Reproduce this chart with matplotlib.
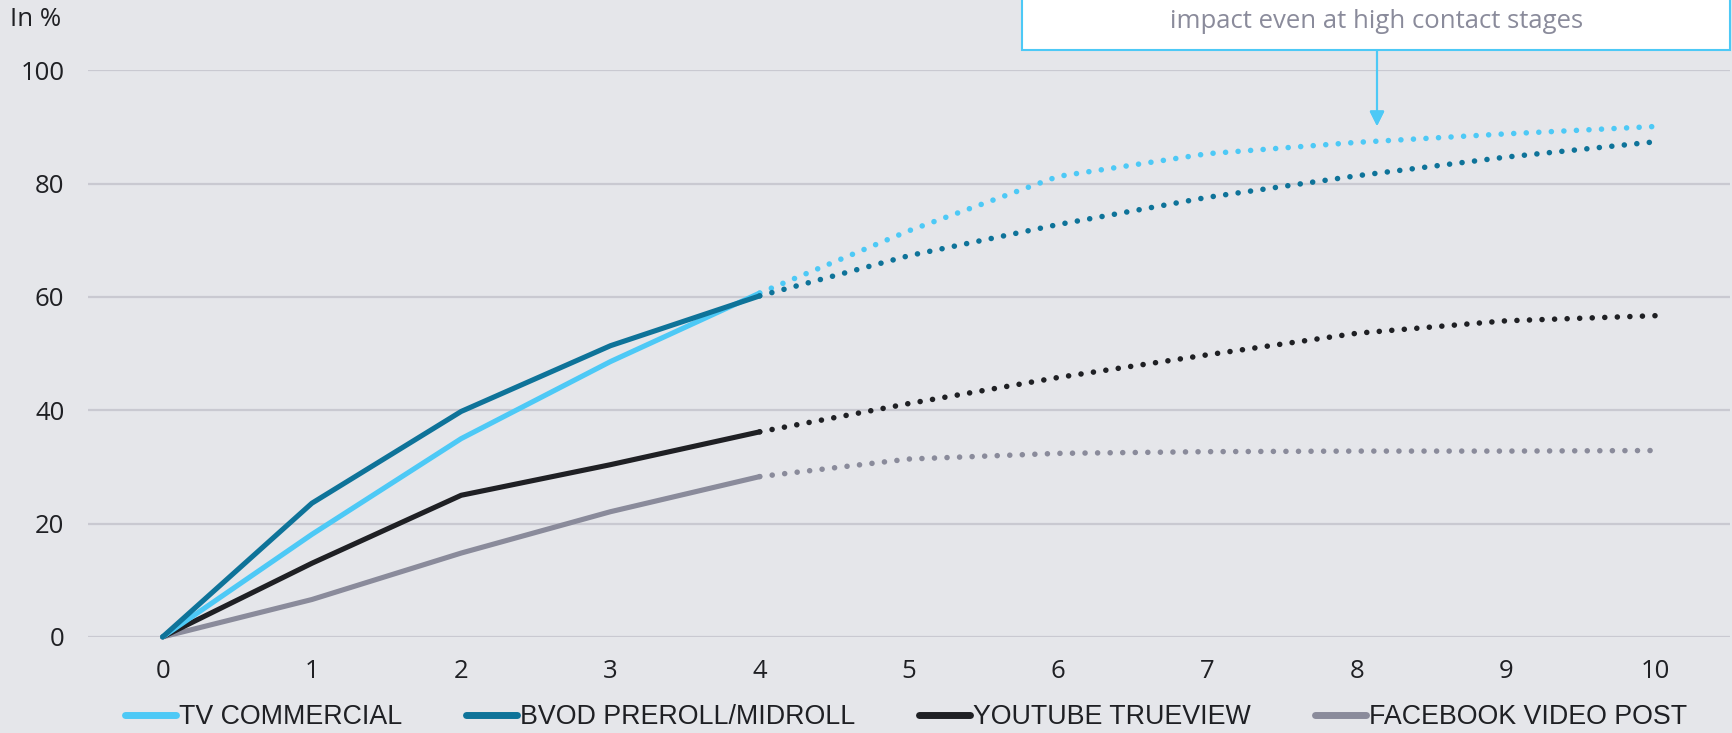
import matplotlib.pyplot as plt
from matplotlib.patches import Rectangle
from matplotlib.lines import Line2D

# data
contacts = [0, 1, 2, 3, 4, 5, 6, 7, 8, 9, 10]
tv_commercial = [0, 18.1, 35.0, 48.6, 60.7, 71.7, 81.3, 85.3, 87.3, 88.8, 90.1]
bvod = [0, 23.6, 39.8, 51.4, 60.2, 67.3, 72.8, 77.6, 81.4, 84.7, 87.4]
youtube = [0, 13.0, 25.0, 30.4, 36.2, 41.2, 45.8, 49.8, 53.6, 55.8, 56.7]
facebook = [0, 6.6, 14.8, 22.1, 28.3, 31.4, 32.4, 32.7, 32.8, 32.8, 32.9]
labels = ["TV COMMERCIAL", "BVOD PREROLL/MIDROLL", "YOUTUBE TRUEVIEW", "FACEBOOK VIDEO POST"]
colors = ["#4DC9F6", "#0E7399", "#1F2024", "#8A8B9B"]
n_measured = 5  # points 0..4 are solid, the rest is projected (dotted)

bg = "#E5E6EA"
grid_col = "#C9C9D1"

fig = plt.figure(figsize=(17.32, 7.33), dpi=100, facecolor=bg)
ax = fig.add_axes([88 / 1732, 1 - 636.9 / 733, 1642 / 1732, 566.5 / 733])
ax.set_facecolor(bg)

series = [tv_commercial, bvod, youtube, facebook]
# draw in back-to-front order like the original
for idx in [3, 2, 0, 1]:
    vals = series[idx]
    ax.plot(contacts[:n_measured], vals[:n_measured], color=colors[idx], lw=3.7,
            solid_capstyle="round", solid_joinstyle="round", clip_on=False, zorder=3)
    ax.plot(contacts[n_measured - 1:], vals[n_measured - 1:], color=colors[idx], lw=4.0,
            linestyle=(0, (0.01, 2.25)), dash_capstyle="round", clip_on=False, zorder=3)

ax.set_xlim(-0.5, 10.5)
ax.set_ylim(0, 100)
ax.set_xticks(contacts)
ax.set_yticks([0, 20, 40, 60, 80, 100])
ax.grid(axis="y", color=grid_col, lw=1.6)
ax.set_axisbelow(True)
for s in ax.spines.values():
    s.set_visible(False)
ax.tick_params(length=0, labelsize=18.5, colors="#1F2024")
ax.tick_params(axis="x", pad=16)
ax.tick_params(axis="y", pad=17)
for lab in ax.get_xticklabels() + ax.get_yticklabels():
    lab.set_family("Open Sans")

fig.text(10 / 1732, 1 - 20 / 733, "In %", fontsize=18.5, family="Open Sans",
         color="#1F2024", va="center", ha="left")

# legend
handles = [Line2D([], [], color=c, lw=5, solid_capstyle="round") for c in colors]
leg = fig.legend(handles, labels, ncol=4, loc="center left",
                 bbox_to_anchor=(125 / 1732, 16 / 733), frameon=False,
                 prop={"family": "Liberation Sans", "size": 19.3},
                 handlelength=1.9, handletextpad=0.1, columnspacing=2.4,
                 borderpad=0, borderaxespad=0)
for t in leg.get_texts():
    t.set_color("#1F2024")

# annotation box (clipped at the top of the figure)
box = Rectangle((1022 / 1732, 1 - 50 / 733), 708 / 1732, 0.2, transform=fig.transFigure,
                facecolor="white", edgecolor="#4DC9F6", lw=1.5, clip_on=False, zorder=5)
fig.patches.append(box)
fig.text(1377 / 1732, 1 - 28 / 733, "impact even at high contact stages", fontsize=18.5,
         family="Open Sans", color="#8A8B9B", ha="center", va="baseline", zorder=6)
fig.add_artist(plt.annotate("", xy=(1377 / 1732, 1 - 126 / 733), xycoords="figure fraction",
                            xytext=(1377 / 1732, 1 - 50 / 733), textcoords="figure fraction",
                            arrowprops=dict(arrowstyle="-|>", color="#4DC9F6", lw=1.5,
                                            mutation_scale=22, shrinkA=0, shrinkB=0)))

fig.savefig("out.png", dpi=100, facecolor=bg)
